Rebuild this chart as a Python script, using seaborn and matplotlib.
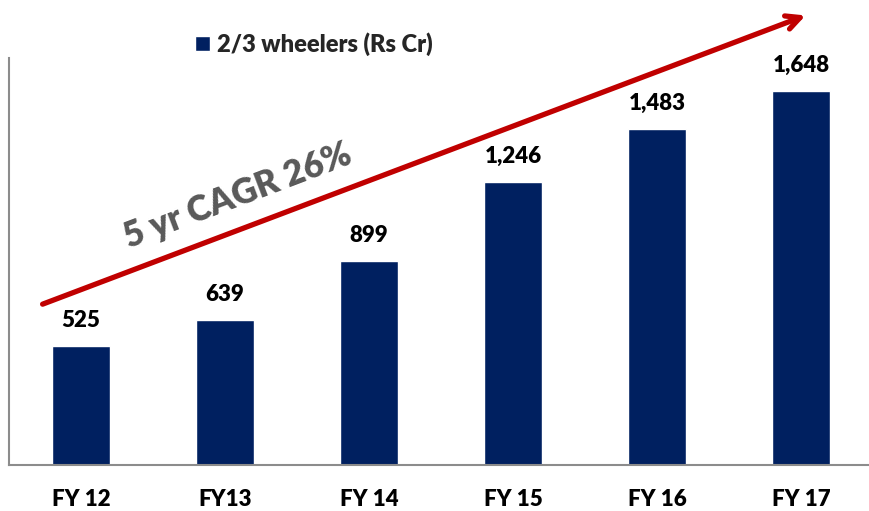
import pandas as pd
import seaborn as sns
import matplotlib.pyplot as plt

# Data
years = ['FY 12', 'FY13', 'FY 14', 'FY 15', 'FY 16', 'FY 17']
values = [525, 639, 899, 1246, 1483, 1648]
series_name = '2/3 wheelers (Rs Cr)'
cagr_text = '5 yr CAGR 26%'

df = pd.DataFrame({'year': years, 'value': values})

sns.set_style('white')
plt.rcParams['font.family'] = ['Lato', 'DejaVu Sans']
plt.rcParams['font.weight'] = 'bold'

fig = plt.figure(figsize=(8.69, 5.11), dpi=100)
ax = fig.add_axes([0.0104, 0.09, 0.9942, 0.7965])

sns.barplot(data=df, x='year', y='value', color='#002060', width=0.4,
            saturation=1, ax=ax, label=series_name)

ax.set_xlim(-0.5, 5.5)
ax.set_ylim(0, 1795)
ax.set_xlabel('')
ax.set_ylabel('')
ax.set_yticks([])
ax.tick_params(axis='x', length=0, pad=17)
for lbl in ax.get_xticklabels():
    lbl.set_fontsize(16)
    lbl.set_fontweight('heavy')
    lbl.set_color('black')

for s in ['top', 'right']:
    ax.spines[s].set_visible(False)
for s in ['left', 'bottom']:
    ax.spines[s].set_color('#8c8c8c')
    ax.spines[s].set_linewidth(1.5)

# value labels
for i, v in enumerate(values):
    ax.annotate(f'{v:,}', (i, v), xytext=(0, 11), textcoords='offset points',
                ha='center', va='bottom', fontsize=16, fontweight='heavy',
                color='black')

# growth arrow
ax.annotate('', xy=(5.05, 1987), xytext=(-0.285, 705), annotation_clip=False,
            arrowprops=dict(arrowstyle='->,head_length=1.0,head_width=0.5',
                            color='#C00000', lw=3.8))
ax.text(1.09, 1185, cagr_text, rotation=20.8, rotation_mode='anchor',
        ha='center', va='center', fontsize=25, fontweight='heavy',
        color='#595959')

# legend
leg = fig.legend(loc='center left', bbox_to_anchor=(0.2, 0.914),
                 frameon=False, handlelength=0.65, handleheight=0.65,
                 handletextpad=0.3, prop={'size': 17, 'weight': 'heavy'})
for t in leg.get_texts():
    t.set_fontweight('heavy')
if ax.get_legend():
    ax.get_legend().remove()

fig.savefig('out.png', dpi=100)
